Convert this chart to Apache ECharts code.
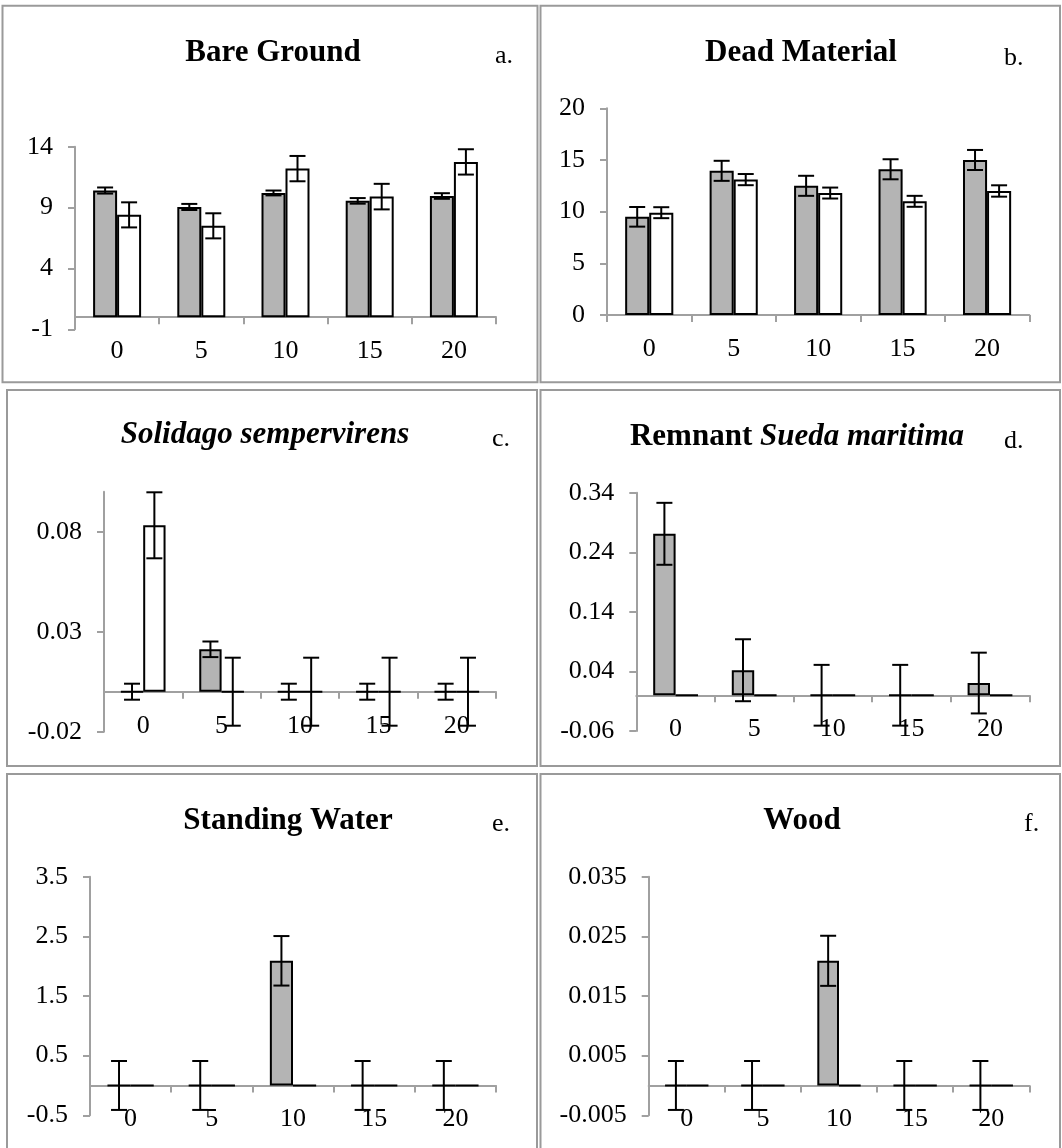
<!DOCTYPE html>
<html><head><meta charset="utf-8">
<script src="https://cdn.jsdelivr.net/npm/echarts@6/dist/echarts.min.js"></script>
<style>html,body{margin:0;padding:0;background:#fff}#c{width:1062px;height:1148px}</style>
</head><body><div id="c"></div>
<script>
// ---------- DATA ----------
const categories = ['0', '5', '10', '15', '20'];

// a. Bare Ground
const bareGray = [10.4, 9.05, 10.2, 9.55, 9.95];
const bareGrayErr = [0.25, 0.25, 0.2, 0.23, 0.23];
const bareWhite = [8.4, 7.5, 12.2, 9.9, 12.75];
const bareWhiteErr = [1.03, 1.03, 1.04, 1.05, 1.04];
const bareTicks = [-1, 4, 9, 14];

// b. Dead Material
const deadGray = [9.5, 13.95, 12.5, 14.1, 15.0];
const deadGrayErr = [0.95, 0.97, 0.97, 0.97, 0.97];
const deadWhite = [9.9, 13.1, 11.8, 11.0, 12.0];
const deadWhiteErr = [0.53, 0.54, 0.53, 0.53, 0.55];
const deadTicks = [0, 5, 10, 15, 20];

// c. Solidago sempervirens
const solGray = [0, 0.0212, 0, 0, 0];
const solGrayErr = [0.004, 0.0039, 0.004, 0.004, 0.004];
const solWhite = [0.0832, 0, 0, 0, 0];
const solWhiteErr = [0.0165, 0.017, 0.017, 0.017, 0.017];
const solTicks = [-0.02, 0.03, 0.08];

// d. Remnant Sueda maritima
const suedaGray = [0.271, 0.042, 0, 0, 0.0205];
const suedaGrayErr = [0.052, 0.052, 0.051, 0.051, 0.051];
const suedaWhite = [0, 0, 0, 0, 0];
const suedaWhiteErr = [0, 0, 0, 0, 0];
const suedaTicks = [-0.06, 0.04, 0.14, 0.24, 0.34];

// e. Standing Water
const waterGray = [0, 0, 2.09, 0, 0];
const waterGrayErr = [0.41, 0.41, 0.415, 0.41, 0.41];
const waterWhite = [0, 0, 0, 0, 0];
const waterWhiteErr = [0, 0, 0, 0, 0];
const waterTicks = [-0.5, 0.5, 1.5, 2.5, 3.5];

// f. Wood
const woodGray = [0, 0, 0.0209, 0, 0];
const woodGrayErr = [0.0041, 0.0041, 0.0042, 0.0041, 0.0041];
const woodWhite = [0, 0, 0, 0, 0];
const woodWhiteErr = [0, 0, 0, 0, 0];
const woodTicks = [-0.005, 0.005, 0.015, 0.025, 0.035];

// ---------- LAYOUT ----------
const SERIF = '"Liberation Serif", "Times New Roman", serif';
const GAP = 0.43;
const AXIS_COLOR = '#a0a0a0';

const panels = [
  { grid: {left: 75, top: 146.7, width: 421, height: 182.6}, min: -1, max: 14, interval: 5, ticks: bareTicks,
    gray: bareGray, grayErr: bareGrayErr, white: bareWhite, whiteErr: bareWhiteErr },
  { grid: {left: 607, top: 108.3, width: 422.3, height: 206.7}, min: 0, max: 20, interval: 5, ticks: deadTicks,
    gray: deadGray, grayErr: deadGrayErr, white: deadWhite, whiteErr: deadWhiteErr },
  { grid: {left: 104, top: 491.7, width: 392, height: 240}, min: -0.02, max: 0.1, interval: 0.05, ticks: solTicks,
    gray: solGray, grayErr: solGrayErr, white: solWhite, whiteErr: solWhiteErr },
  { grid: {left: 636.3, top: 492.7, width: 393, height: 238.3}, min: -0.06, max: 0.34, interval: 0.1, ticks: suedaTicks,
    gray: suedaGray, grayErr: suedaGrayErr, white: suedaWhite, whiteErr: suedaWhiteErr },
  { grid: {left: 90, top: 876.7, width: 406, height: 238.6}, min: -0.5, max: 3.5, interval: 1, ticks: waterTicks,
    gray: waterGray, grayErr: waterGrayErr, white: waterWhite, whiteErr: waterWhiteErr },
  { grid: {left: 648.7, top: 876.7, width: 380.6, height: 238.6}, min: -0.005, max: 0.035, interval: 0.01, ticks: woodTicks,
    gray: woodGray, grayErr: woodGrayErr, white: woodWhite, whiteErr: woodWhiteErr }
];

function errSeries(idx, vals, errs, sign) {
  return {
    type: 'custom', xAxisIndex: idx, yAxisIndex: idx, z: 5, silent: true,
    encode: {x: 0, y: 1},
    data: vals.map((v, i) => [i, v, errs[i]]),
    renderItem: function (params, api) {
      const err = api.value(2);
      if (!err) return null;
      const band = api.size([1, 0])[0];
      const bw = band * (1 - GAP) / 2;
      const cx = api.coord([api.value(0), 0])[0] + sign * bw / 2;
      const yt = api.coord([api.value(0), api.value(1) + err])[1];
      const yb = api.coord([api.value(0), api.value(1) - err])[1];
      const hw = 8;
      const st = {stroke: '#000', lineWidth: 2};
      return {type: 'group', children: [
        {type: 'line', shape: {x1: cx, y1: yt, x2: cx, y2: yb}, style: st},
        {type: 'line', shape: {x1: cx - hw, y1: yt, x2: cx + hw, y2: yt}, style: st},
        {type: 'line', shape: {x1: cx - hw, y1: yb, x2: cx + hw, y2: yb}, style: st}
      ]};
    }
  };
}

const grids = [], xAxes = [], yAxes = [], series = [];
panels.forEach((p, i) => {
  grids.push(Object.assign({containLabel: false, outerBoundsMode: 'none'}, p.grid));
  // move the category axis (line, ticks, labels) up to the value-axis zero
  const zeroOffset = -((0 - p.min) / (p.max - p.min)) * p.grid.height;
  xAxes.push({
    type: 'category', gridIndex: i, data: categories, position: 'bottom', offset: zeroOffset,
    axisLine: {show: true, onZero: false, lineStyle: {color: AXIS_COLOR, width: 2}},
    axisTick: {show: true, length: 7, lineStyle: {color: AXIS_COLOR, width: 2}},
    axisLabel: {margin: 21, fontFamily: SERIF, fontSize: 26, color: '#000'},
    splitLine: {show: false}
  });
  yAxes.push({
    type: 'value', gridIndex: i, min: p.min, max: p.max, interval: p.interval,
    axisLine: {show: true, onZero: false, lineStyle: {color: AXIS_COLOR, width: 2}},
    axisTick: {show: true, length: 7, lineStyle: {color: AXIS_COLOR, width: 2}, customValues: p.ticks},
    axisLabel: {margin: 22, fontFamily: SERIF, fontSize: 26, color: '#000', customValues: p.ticks,
      formatter: v => String(+(+v).toFixed(4))},
    splitLine: {show: false}
  });
  series.push({
    type: 'bar', xAxisIndex: i, yAxisIndex: i, data: p.gray, barGap: '0%', barCategoryGap: (GAP * 100) + '%',
    itemStyle: {color: '#b4b4b4', borderColor: '#000', borderWidth: 2}, silent: true
  });
  series.push({
    type: 'bar', xAxisIndex: i, yAxisIndex: i, data: p.white, barGap: '0%', barCategoryGap: (GAP * 100) + '%',
    itemStyle: {color: '#ffffff', borderColor: '#000', borderWidth: 2}, silent: true
  });
  series.push(errSeries(i, p.gray, p.grayErr, -1));
  series.push(errSeries(i, p.white, p.whiteErr, 1));
});

// panel borders
const BORDER = '#9a9a9a';
const borders = [
  [2.5, 5.7, 535, 376.6],
  [540.5, 5.7, 519.5, 376.6],
  [7, 390, 530, 376],
  [540.5, 390, 519.5, 376],
  [7, 774, 530, 400],
  [540.5, 774, 519.5, 400]
].map(b => ({type: 'rect', silent: true, z: 0,
  shape: {x: b[0], y: b[1], width: b[2], height: b[3]},
  style: {fill: 'none', stroke: BORDER, lineWidth: 2}}));

function title(x, y, text, rich) {
  const st = {text: text, x: 0, y: 0, fill: '#000',
    font: 'bold 31px ' + SERIF, fontSize: 31, fontWeight: 'bold', fontFamily: SERIF,
    align: 'center', verticalAlign: 'middle', textAlign: 'center', textVerticalAlign: 'middle'};
  if (rich) st.rich = rich;
  return {type: 'text', x: x, y: y, z: 10, silent: true, style: st};
}
function letter(x, y, text) {
  return {type: 'text', x: x, y: y, z: 10, silent: true, style: {text: text, fill: '#000',
    font: '26px ' + SERIF, fontSize: 26, fontFamily: SERIF,
    align: 'left', verticalAlign: 'middle', textAlign: 'left', textVerticalAlign: 'middle'}};
}
const titles = [
  title(273, 53, 'Bare Ground'),
  title(801, 53, 'Dead Material'),
  title(265, 435, '{i|Solidago sempervirens}', {i: {fontStyle: 'italic', fontWeight: 'bold', fontSize: 31, fontFamily: SERIF, fill: '#000'}}),
  title(797, 437, '{n|Remnant }{i|Sueda maritima}', {
    n: {fontWeight: 'bold', fontSize: 31, fontFamily: SERIF, fill: '#000'},
    i: {fontStyle: 'italic', fontWeight: 'bold', fontSize: 31, fontFamily: SERIF, fill: '#000'}}),
  title(288, 821, 'Standing Water'),
  title(802, 821, 'Wood'),
  letter(495, 56, 'a.'),
  letter(1004, 58, 'b.'),
  letter(492, 439, 'c.'),
  letter(1004, 441, 'd.'),
  letter(492, 824, 'e.'),
  letter(1024, 824, 'f.')
];

const chart = echarts.init(document.getElementById('c'), null, {renderer: 'canvas'});
chart.setOption({
  animation: false,
  backgroundColor: '#ffffff',
  grid: grids, xAxis: xAxes, yAxis: yAxes, series: series,
  graphic: borders.concat(titles)
});
</script></body></html>
